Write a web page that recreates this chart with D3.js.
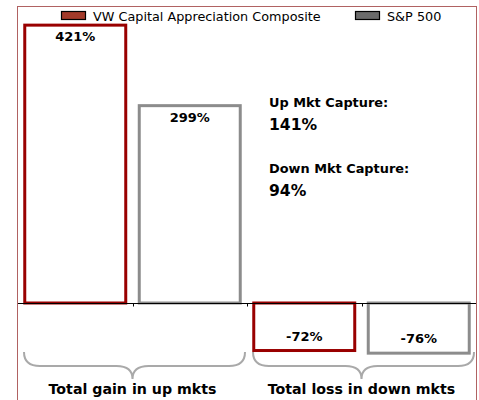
<!DOCTYPE html>
<html><head><meta charset="utf-8">
<script src="https://cdn.jsdelivr.net/npm/d3@7/dist/d3.min.js"></script>
<style>body{margin:0;background:#fff}svg{display:block}</style>
</head><body>
<script>
const groups = ["Total gain in up mkts", "Total loss in down mkts"];
const series = ["VW Capital Appreciation Composite", "S&P 500"];
const vwValues = [421, -72];
const spValues = [299, -76];
const barLabels = [["421%", "-72%"], ["299%", "-76%"]];
const captureLines = ["Up Mkt Capture:", "141%", "Down Mkt Capture:", "94%"];

const W = 479, H = 400;
const svg = d3.select("body").append("svg").attr("width", W).attr("height", H);
const font = "DejaVu Sans, Verdana, sans-serif";

// frame
svg.append("rect").attr("x", 17.5).attr("y", 6.5).attr("width", 459).attr("height", 420)
  .attr("fill", "none").attr("stroke", "#b06262").attr("stroke-width", 1);

const x0 = d3.scaleBand().domain(groups).range([18, 476]).paddingInner(0).paddingOuter(0);
const x1 = d3.scaleBand().domain(series).range([0, x0.bandwidth()]).paddingInner(0.118).paddingOuter(0.059);
const y = d3.scaleLinear().domain([-150, 450]).range([402, 6]);

const strokeCols = ["#990000", "#8c8c8c"];
const swatchCols = ["#a33a2a", "#6b6b6b"];
const vals = [vwValues, spValues];

// bars
series.forEach((s, si) => {
  groups.forEach((g, gi) => {
    const v = vals[si][gi];
    const bx = x0(g) + x1(s);
    const top = y(Math.max(0, v)), bot = y(Math.min(0, v));
    svg.append("rect").attr("x", bx).attr("y", top).attr("width", x1.bandwidth()).attr("height", bot - top)
      .attr("fill", "#fff").attr("stroke", strokeCols[si]).attr("stroke-width", 3);
    const ly = v >= 0 ? top + 16 : bot - 10;
    svg.append("text").attr("x", bx + x1.bandwidth() / 2).attr("y", ly)
      .attr("text-anchor", "middle").attr("font-family", font).attr("font-weight", "bold")
      .attr("font-size", 13).attr("fill", "#000").text(barLabels[si][gi]);
  });
});

// zero axis
const y0 = Math.round(y(0)) + 0.5;
svg.append("line").attr("x1", 18).attr("x2", 476).attr("y1", y0).attr("y2", y0)
  .attr("stroke", "#000").attr("stroke-width", 1);
// ticks between bars
const tickXs = [];
groups.forEach((g, i) => { if (i > 0) tickXs.push(x0(g)); tickXs.push(x0(g) + x0.bandwidth() / 2); });
tickXs.forEach(tx => {
  svg.append("line").attr("x1", Math.round(tx) + 0.5).attr("x2", Math.round(tx) + 0.5)
    .attr("y1", y0).attr("y2", y0 + 3).attr("stroke", "#000").attr("stroke-width", 1);
});

// legend
const legend = svg.append("g");
const legItems = [{x: 61, t: series[0]}, {x: 355, t: series[1]}];
legItems.forEach((it, i) => {
  legend.append("rect").attr("x", it.x + 0.5).attr("y", 11.5).attr("width", 24).attr("height", 8)
    .attr("fill", swatchCols[i]).attr("stroke", "#000").attr("stroke-width", 1.2);
  legend.append("text").attr("x", it.x + 32).attr("y", 20.5).attr("font-family", font)
    .attr("font-size", 12.8).attr("fill", "#000").text(it.t);
});

// capture annotations
const capY = [107, 130, 173, 196];
captureLines.forEach((t, i) => {
  svg.append("text").attr("x", 269).attr("y", capY[i]).attr("font-family", font)
    .attr("font-weight", "bold").attr("font-size", i % 2 === 0 ? 12.9 : 15.6).attr("fill", "#000").text(t);
});

// braces
groups.forEach(g => {
  const a = x0(g) + 6, b = x0(g) + x0.bandwidth() - 2;
  const cx = x0(g) + x0.bandwidth() / 2;
  const yt = 352, ym = 366, yp = 379, r = 16;
  const p = d3.path();
  p.moveTo(a, yt);
  p.quadraticCurveTo(a, ym, a + r, ym);
  p.lineTo(cx - r, ym);
  p.quadraticCurveTo(cx, ym, cx, yp);
  p.quadraticCurveTo(cx, ym, cx + r, ym);
  p.lineTo(b - r, ym);
  p.quadraticCurveTo(b, ym, b, yt);
  svg.append("path").attr("d", p.toString()).attr("fill", "none")
    .attr("stroke", "#a9a9a9").attr("stroke-width", 2);
  svg.append("text").attr("x", cx).attr("y", 394).attr("text-anchor", "middle")
    .attr("font-family", font).attr("font-weight", "bold").attr("font-size", 14.2).attr("fill", "#000").text(g);
});
</script>
</body></html>
